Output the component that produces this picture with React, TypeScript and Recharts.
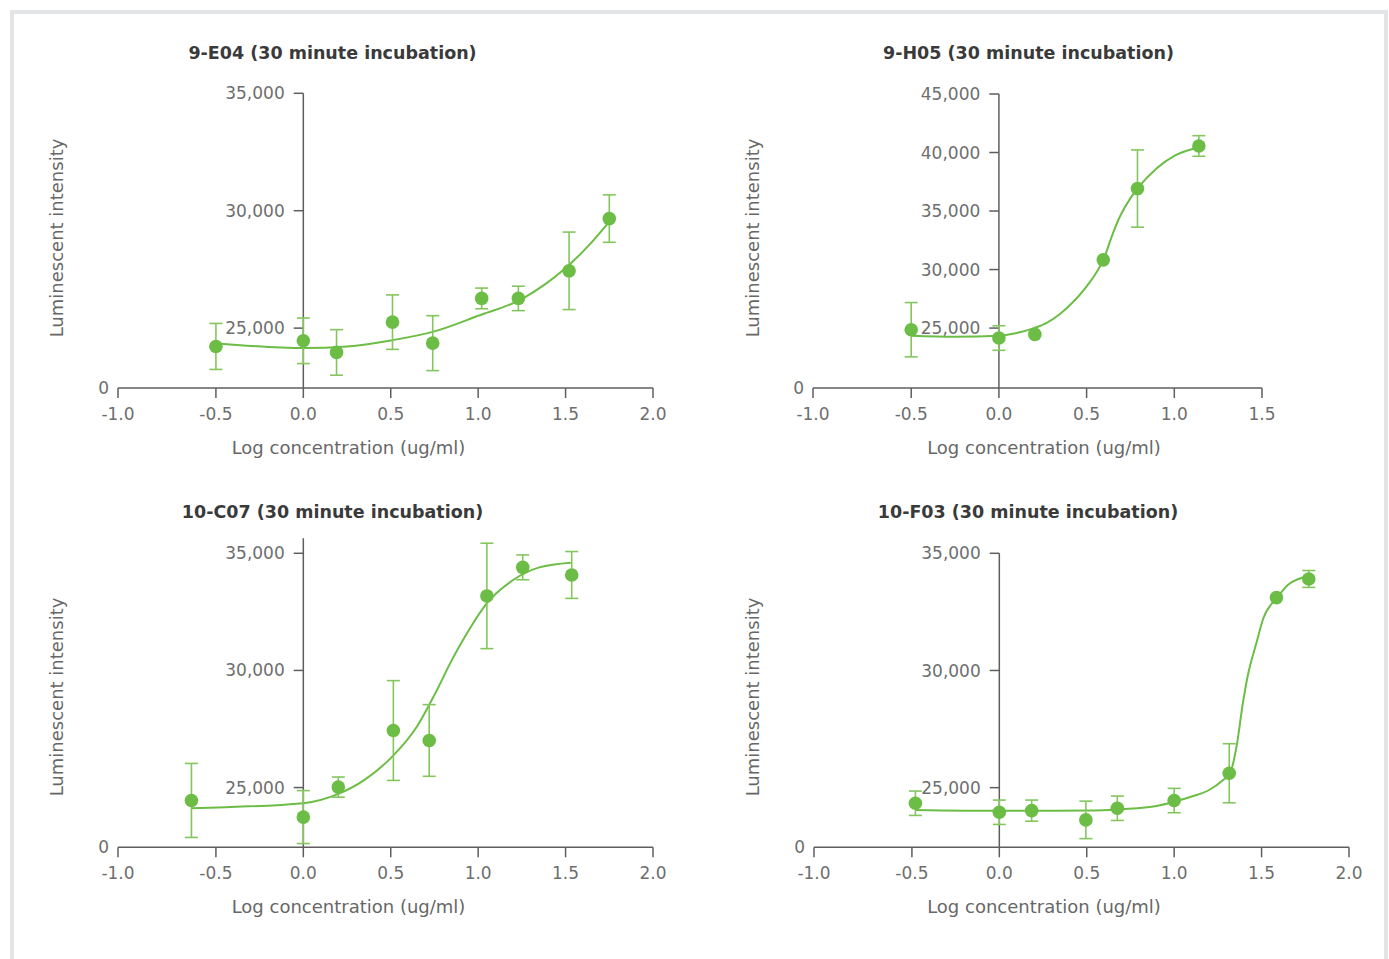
import {
  ComposedChart,
  XAxis,
  YAxis,
  Line,
  Scatter,
  ErrorBar,
  ReferenceLine,
} from "recharts"

const FONT = '"DejaVu Sans", sans-serif'
const GREEN = "#6cbd45"
const BAR_GREEN = "#84c65e"
const AXIS = "#5e5e5e"
const TICK_TEXT = "#6e6e6e"
const TITLE_TEXT = "#3a3a3a"

// left end of the x axis is drawn a little past -1.0 (broken axis in the original)
const X_START = -1.06
const X_TICKS_FULL = [X_START, -0.5, 0, 0.5, 1, 1.5, 2]
const X_TICKS_SHORT = [X_START, -0.5, 0, 0.5, 1, 1.5]

// 9-E04
const E04_X = [-0.5, 0, 0.19, 0.51, 0.74, 1.02, 1.23, 1.52, 1.75]
const E04_Y = [24220, 24460, 23965, 25255, 24360, 26265, 26265, 27440, 29665]
const E04_ERR = [980, 970, 970, 1160, 1170, 440, 520, 1650, 1010]
const E04_FIT_X = [-0.5, 0, 0.25, 0.5, 0.75, 1.0, 1.25, 1.38, 1.5, 1.63, 1.75]
const E04_FIT_Y = [24360, 24150, 24220, 24475, 24860, 25525, 26240, 26850, 27560, 28500, 29540]

// 9-H05
const H05_X = [-0.5, 0, 0.205, 0.595, 0.79, 1.14]
const H05_Y = [24860, 24150, 24460, 30830, 36920, 40560]
const H05_ERR = [2320, 1050, 0, 0, 3300, 880]
const H05_FIT_X = [-0.5, -0.25, 0, 0.08, 0.2, 0.27, 0.35, 0.42, 0.5, 0.6, 0.65, 0.69, 0.75, 0.79, 0.9, 1.0, 1.14]
const H05_FIT_Y = [24345, 24260, 24345, 24516, 25000, 25430, 26230, 27180, 28560, 31000, 33100, 34530, 36100, 36920, 38660, 39710, 40450]

// 10-C07
const C07_X = [-0.64, 0, 0.2, 0.515, 0.72, 1.05, 1.255, 1.535]
const C07_Y = [24450, 23740, 25020, 27435, 27010, 33180, 34400, 34075]
const C07_ERR = [1580, 1130, 430, 2130, 1530, 2250, 530, 1000]
const C07_FIT_X = [-0.64, 0, 0.2, 0.35, 0.5, 0.65, 0.75, 0.85, 0.95, 1.05, 1.2, 1.35, 1.53]
const C07_FIT_Y = [24120, 24335, 24730, 25330, 26255, 27605, 28955, 30450, 31760, 32870, 33860, 34400, 34600]

// 10-F03
const F03_X = [-0.48, 0, 0.185, 0.495, 0.675, 1.0, 1.315, 1.585, 1.77]
const F03_Y = [24335, 23950, 24020, 23625, 24120, 24450, 25615, 33110, 33905]
const F03_ERR = [520, 520, 450, 800, 520, 520, 1260, 0, 360]
const F03_FIT_X = [-0.48, 0, 0.5, 0.7, 0.9, 1.0, 1.1, 1.2, 1.28, 1.32, 1.36, 1.39, 1.42, 1.47, 1.51, 1.59, 1.65, 1.77]
const F03_FIT_Y = [24050, 24010, 24020, 24080, 24220, 24400, 24620, 24900, 25330, 25620, 26900, 28460, 29740, 31160, 32230, 33110, 33650, 34030]

const Y_TICKS_35 = [25000, 30000, 35000]
const Y_TICKS_45 = [25000, 30000, 35000, 40000, 45000]

interface Pt {
  x: number
  y: number
  err?: number
}

const toPoints = (xs: number[], ys: number[], errs?: number[]): Pt[] =>
  xs.map((x, i) => ({ x, y: ys[i], err: errs ? errs[i] : undefined }))

const fmtX = (v: number) => (v < -1 ? "-1.0" : v.toFixed(1))
const fmtY = (v: number) => v.toLocaleString("en-US")

interface PanelProps {
  title: string
  left: number
  top: number
  width: number
  height: number
  marginTop: number
  xMax: number
  xTicks: number[]
  yMin: number
  yMax: number
  yTicks: number[]
  points: Pt[]
  fit: Pt[]
  titlePos: [number, number]
  xLabelPos: [number, number]
  yLabelPos: [number, number]
}

function AbsText({
  x,
  y,
  children,
  bold,
  rotate,
}: {
  x: number
  y: number
  children: string
  bold?: boolean
  rotate?: boolean
}) {
  return (
    <div
      style={{
        position: "absolute",
        left: x,
        top: y,
        transform: `translate(-50%, -50%)${rotate ? " rotate(-90deg)" : ""}`,
        whiteSpace: "nowrap",
        lineHeight: 1,
        fontFamily: FONT,
        fontSize: bold ? 17.5 : 18,
        fontWeight: bold ? 700 : 400,
        color: bold ? TITLE_TEXT : "#676767",
      }}
    >
      {children}
    </div>
  )
}

function Panel(p: PanelProps) {
  const tickLen = 0.055
  return (
    <>
      <AbsText x={p.titlePos[0]} y={p.titlePos[1]} bold>
        {p.title}
      </AbsText>
      <AbsText x={p.xLabelPos[0]} y={p.xLabelPos[1]}>
        Log concentration (ug/ml)
      </AbsText>
      <AbsText x={p.yLabelPos[0]} y={p.yLabelPos[1]} rotate>
        Luminescent intensity
      </AbsText>
      <div style={{ position: "absolute", left: p.left, top: p.top }}>
        <ComposedChart
          width={p.width}
          height={p.height}
          margin={{ top: p.marginTop, right: 27, bottom: 0, left: 0 }}
        >
          <XAxis
            type="number"
            dataKey="x"
            domain={[X_START, p.xMax]}
            ticks={p.xTicks}
            allowDataOverflow
            tickFormatter={fmtX}
            stroke={AXIS}
            strokeWidth={1.5}
            tickSize={10}
            tickMargin={10}
            height={40}
            tick={{ fill: TICK_TEXT, fontSize: 17, fontFamily: FONT }}
          />
          <YAxis
            type="number"
            domain={[p.yMin, p.yMax]}
            ticks={[p.yMin]}
            allowDataOverflow
            tickFormatter={() => "0"}
            axisLine={false}
            tickLine={false}
            tickSize={0}
            tickMargin={9}
            width={98}
            tick={{ fill: TICK_TEXT, fontSize: 17, fontFamily: FONT }}
          />
          <ReferenceLine
            segment={[
              { x: 0, y: p.yMin },
              { x: 0, y: p.yMax },
            ]}
            stroke={AXIS}
            strokeWidth={1.5}
          />
          {p.yTicks.map((v) => (
            <ReferenceLine
              key={v}
              segment={[
                { x: -tickLen, y: v },
                { x: 0, y: v },
              ]}
              stroke={AXIS}
              strokeWidth={1.5}
              label={{
                value: fmtY(v),
                position: "left",
                offset: 9,
                fill: TICK_TEXT,
                fontSize: 17,
                fontFamily: FONT,
              }}
            />
          ))}
          <Line
            data={p.fit}
            dataKey="y"
            type="monotone"
            stroke={GREEN}
            strokeWidth={2}
            dot={false}
            activeDot={false}
            isAnimationActive={false}
          />
          <Scatter
            data={p.points}
            dataKey="y"
            fill={GREEN}
            isAnimationActive={false}
            shape={(s: any) => <circle cx={s.cx} cy={s.cy} r={6.8} fill={GREEN} />}
          >
            <ErrorBar
              dataKey="err"
              direction="y"
              width={6.5}
              stroke={BAR_GREEN}
              strokeWidth={1.6}
              isAnimationActive={false}
            />
          </Scatter>
        </ComposedChart>
      </div>
    </>
  )
}

export default function App() {
  return (
    <div
      style={{
        position: "absolute",
        left: 0,
        top: 0,
        width: 1389,
        height: 959,
        background: "#fff",
        overflow: "hidden",
      }}
    >
      <div
        style={{
          position: "absolute",
          left: 10,
          top: 10,
          width: 1378,
          height: 949,
          boxSizing: "border-box",
          border: "4px solid #e3e4e5",
          borderBottom: "none",
        }}
      />
      <Panel
        title="9-E04 (30 minute incubation)"
        left={20}
        top={60}
        width={660}
        height={368}
        marginTop={33.3}
        xMax={2}
        xTicks={X_TICKS_FULL}
        yMin={22450}
        yMax={35000}
        yTicks={Y_TICKS_35}
        points={toPoints(E04_X, E04_Y, E04_ERR)}
        fit={toPoints(E04_FIT_X, E04_FIT_Y)}
        titlePos={[332.5, 54]}
        xLabelPos={[348.5, 448]}
        yLabelPos={[57, 238]}
      />
      <Panel
        title="9-H05 (30 minute incubation)"
        left={715}
        top={60}
        width={574}
        height={368}
        marginTop={34}
        xMax={1.5}
        xTicks={X_TICKS_SHORT}
        yMin={19880}
        yMax={45000}
        yTicks={Y_TICKS_45}
        points={toPoints(H05_X, H05_Y, H05_ERR)}
        fit={toPoints(H05_FIT_X, H05_FIT_Y)}
        titlePos={[1028.5, 54]}
        xLabelPos={[1044, 448]}
        yLabelPos={[753, 238]}
      />
      <Panel
        title="10-C07 (30 minute incubation)"
        left={20}
        top={520}
        width={660}
        height={367.3}
        marginTop={18.3}
        xMax={2}
        xTicks={X_TICKS_FULL}
        yMin={22450}
        yMax={35640}
        yTicks={Y_TICKS_35}
        points={toPoints(C07_X, C07_Y, C07_ERR)}
        fit={toPoints(C07_FIT_X, C07_FIT_Y)}
        titlePos={[332.5, 513]}
        xLabelPos={[348.5, 907]}
        yLabelPos={[57, 697]}
      />
      <Panel
        title="10-F03 (30 minute incubation)"
        left={716}
        top={520}
        width={660}
        height={367.3}
        marginTop={33.3}
        xMax={2}
        xTicks={X_TICKS_FULL}
        yMin={22455}
        yMax={35000}
        yTicks={Y_TICKS_35}
        points={toPoints(F03_X, F03_Y, F03_ERR)}
        fit={toPoints(F03_FIT_X, F03_FIT_Y)}
        titlePos={[1028, 513]}
        xLabelPos={[1044, 907]}
        yLabelPos={[753, 697]}
      />
    </div>
  )
}
